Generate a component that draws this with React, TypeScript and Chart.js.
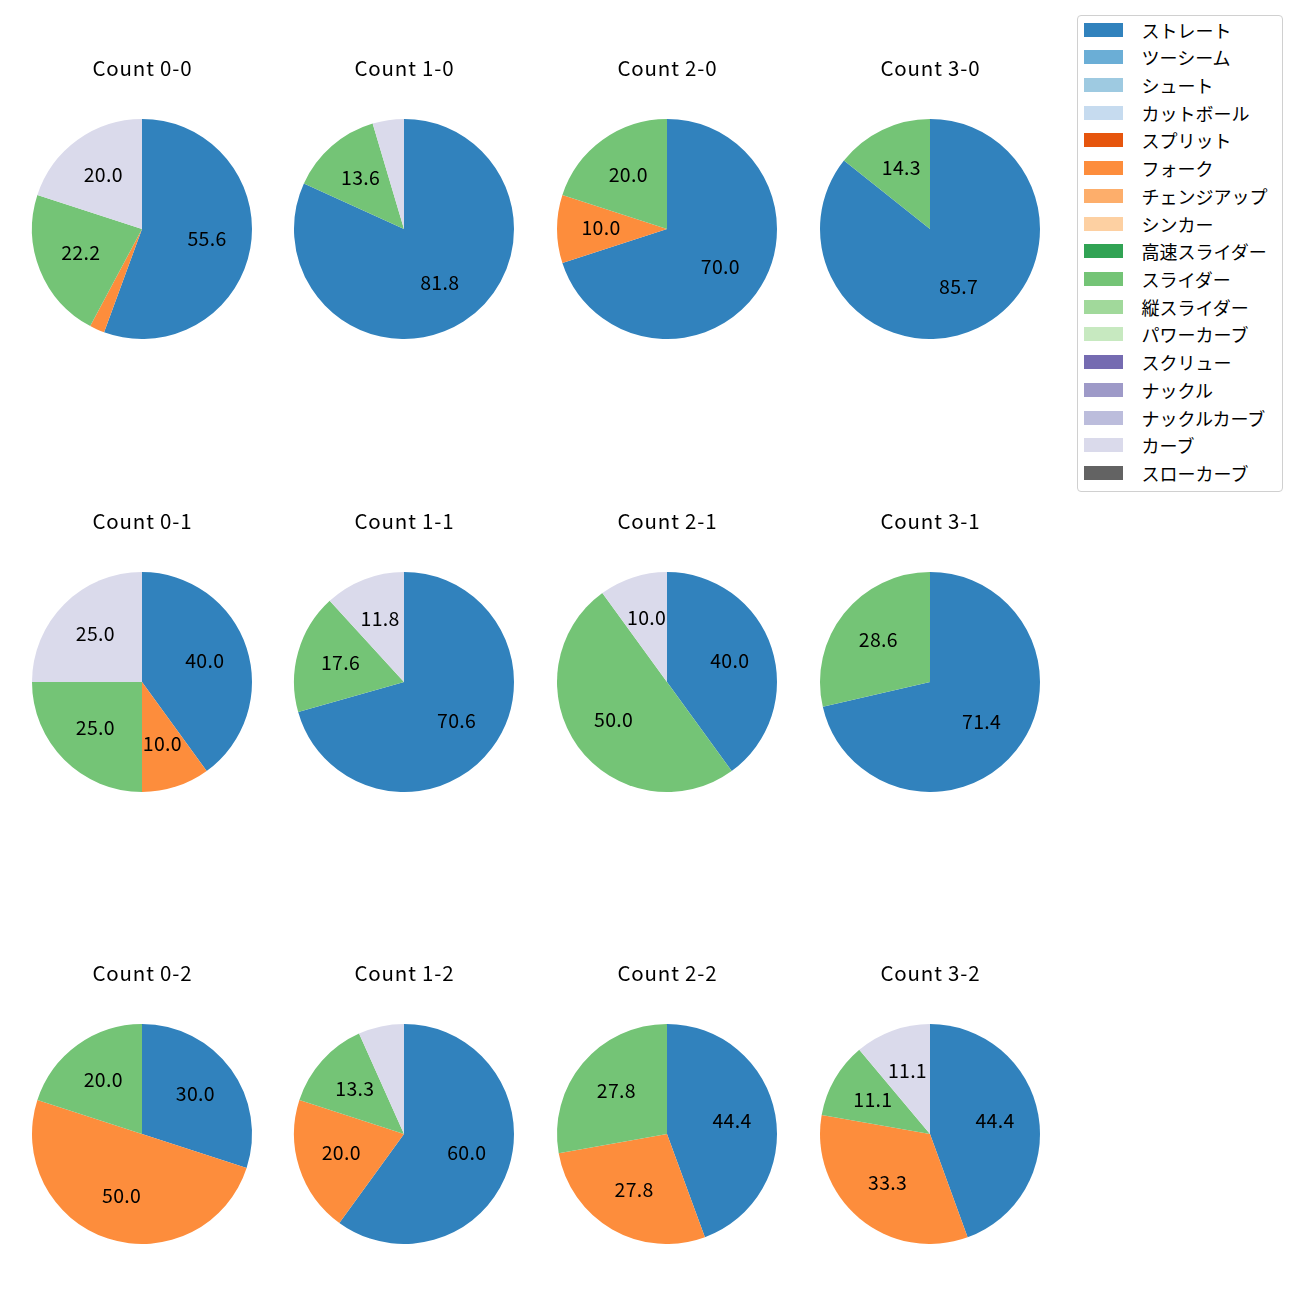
import React, { useEffect, useRef } from "react";
import { Chart, registerables } from "chart.js";

Chart.register(...registerables);

const pitchTypes = [
  "ストレート", "ツーシーム", "シュート", "カットボール", "スプリット", "フォーク",
  "チェンジアップ", "シンカー", "高速スライダー", "スライダー", "縦スライダー",
  "パワーカーブ", "スクリュー", "ナックル", "ナックルカーブ", "カーブ", "スローカーブ",
];
const pitchColors = [
  "#3182bd", "#6baed6", "#9ecae1", "#c6dbef", "#e6550d", "#fd8d3c",
  "#fdae6b", "#fdd0a2", "#31a354", "#74c476", "#a1d99b",
  "#c7e9c0", "#756bb1", "#9e9ac8", "#bcbddc", "#dadaeb", "#636363",
];

const countLabels = ["0-0", "1-0", "2-0", "3-0", "0-1", "1-1", "2-1", "3-1", "0-2", "1-2", "2-2", "3-2"];
// percentage per count (same order as countLabels)
const straightPct = [55.6, 81.8, 70.0, 85.7, 40.0, 70.6, 40.0, 71.4, 30.0, 60.0, 44.4, 44.4];
const forkPct = [2.2, 0, 10.0, 0, 10.0, 0, 0, 0, 50.0, 20.0, 27.8, 33.3];
const sliderPct = [22.2, 13.6, 20.0, 14.3, 25.0, 17.6, 50.0, 28.6, 20.0, 13.3, 27.8, 11.1];
const curvePct = [20.0, 4.6, 0, 0, 25.0, 11.8, 10.0, 0, 0, 6.7, 0, 11.1];

const FONT = "'Noto Sans CJK JP', 'Noto Sans', sans-serif";
const colCenters = [141.5, 404.3, 667.1, 929.9];
const rowCenters = [229, 681.7, 1134.4];
const RADIUS = 110;
const CW = 262;
const CH = 300;
const CY = 190;

function valuesFor(i: number): number[] {
  return pitchTypes.map((p) => {
    if (p === "ストレート") return straightPct[i];
    if (p === "フォーク") return forkPct[i];
    if (p === "スライダー") return sliderPct[i];
    if (p === "カーブ") return curvePct[i];
    return 0;
  });
}

const labelPlugin = {
  id: "pieLabels",
  afterDatasetsDraw(chart: any) {
    const ctx = chart.ctx;
    const meta = chart.getDatasetMeta(0);
    const data = chart.data.datasets[0].data as number[];
    const total = data.reduce((a, b) => a + b, 0);
    ctx.save();
    ctx.font = `19.5px ${FONT}`;
    (ctx as any).letterSpacing = "0.3px";
    ctx.fillStyle = "#000";
    ctx.textAlign = "center";
    ctx.textBaseline = "middle";
    meta.data.forEach((arc: any, k: number) => {
      const v = data[k];
      if (!v || (v / total) * 100 < 8) return;
      const { x, y, startAngle, endAngle, outerRadius } = arc.getProps(
        ["x", "y", "startAngle", "endAngle", "outerRadius"], true
      );
      const a = (startAngle + endAngle) / 2;
      const r = outerRadius * 0.6;
      ctx.fillText(v.toFixed(1), x + Math.cos(a) * r, y + Math.sin(a) * r - 1.5);
    });
    ctx.restore();
  },
};

const titlePlugin = {
  id: "pieTitle",
  afterDraw(chart: any) {
    const ctx = chart.ctx;
    const t = chart.options.plugins.pieTitle.text;
    ctx.save();
    ctx.font = `20.5px ${FONT}`;
    (ctx as any).letterSpacing = "0.8px";
    ctx.fillStyle = "#000";
    ctx.textAlign = "center";
    ctx.textBaseline = "middle";
    ctx.fillText(t, CW / 2 + 0.4, CY - 161);
    ctx.restore();
  },
};

function Pie({ index }: { index: number }) {
  const ref = useRef<HTMLCanvasElement>(null);
  useEffect(() => {
    if (!ref.current) return;
    const chart = new Chart(ref.current, {
      type: "pie",
      data: {
        labels: pitchTypes,
        datasets: [
          {
            data: valuesFor(index),
            backgroundColor: pitchColors,
            borderWidth: 0,
          },
        ],
      },
      options: {
        responsive: false,
        animation: false,
        layout: { padding: { left: CW / 2 - RADIUS, right: CW / 2 - RADIUS, top: CY - RADIUS, bottom: CH - CY - RADIUS } },
        plugins: {
          legend: { display: false },
          tooltip: { enabled: false },
          pieTitle: { text: `Count ${countLabels[index]}` },
        } as any,
      },
      plugins: [labelPlugin, titlePlugin],
    });
    return () => chart.destroy();
  }, [index]);
  const col = index % 4;
  const row = Math.floor(index / 4);
  return (
    <canvas
      ref={ref}
      width={CW}
      height={CH}
      style={{
        position: "absolute",
        left: colCenters[col] - CW / 2,
        top: rowCenters[row] - CY,
        width: CW,
        height: CH,
      }}
    />
  );
}

function Legend() {
  const first = 29.5;
  const step = 27.72;
  const L = 1077;
  const T = 15;
  return (
    <div
      style={{
        position: "absolute",
        left: L,
        top: T,
        width: 206,
        height: 477,
        border: "1px solid #d0d0d0",
        borderRadius: 4,
        boxSizing: "border-box",
        background: "#fff",
      }}
    >
      {pitchTypes.map((p, i) => {
        const cy = first + i * step - T - 1;
        return (
          <React.Fragment key={p}>
            <div
              style={{
                position: "absolute",
                left: 1084 - L - 1,
                top: cy - 7,
                width: 39,
                height: 14,
                background: pitchColors[i],
              }}
            />
            <div
              style={{
                position: "absolute",
                left: 1141.5 - L - 1,
                top: cy - 13,
                height: 26,
                lineHeight: "26px",
                fontSize: 18,
                fontFamily: FONT,
                color: "#000",
                whiteSpace: "nowrap",
              }}
            >
              {p}
            </div>
          </React.Fragment>
        );
      })}
    </div>
  );
}

export default function App() {
  return (
    <div style={{ position: "absolute", left: 0, top: 0, width: 1300, height: 1300, background: "#fff" }}>
      {countLabels.map((_, i) => (
        <Pie key={i} index={i} />
      ))}
      <Legend />
    </div>
  );
}
